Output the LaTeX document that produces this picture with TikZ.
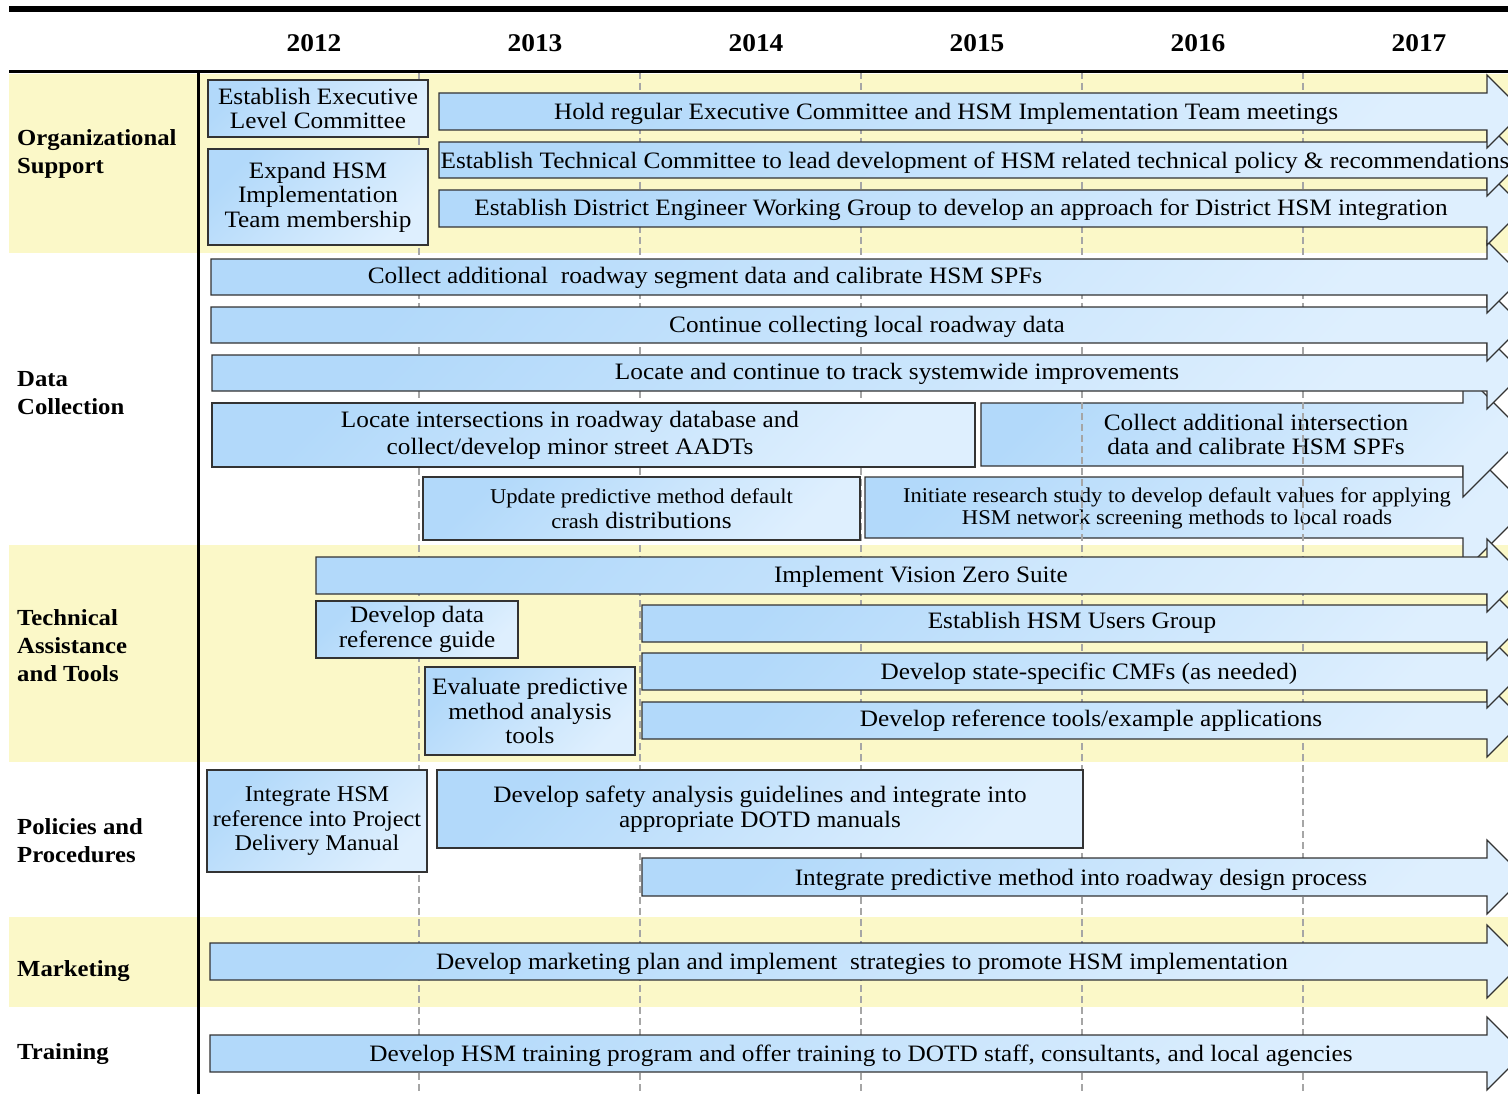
\documentclass[tikz,border=0pt]{standalone}
\usepackage{fontspec}
\setmainfont{Liberation Serif}[FakeStretch=1.075]
\definecolor{bandyellow}{RGB}{251,248,200}
\definecolor{taskdark}{RGB}{178,217,250}
\definecolor{tasklight}{RGB}{222,239,254}
\tikzset{
  band/.style={fill=bandyellow}, % yellow background of a row
  task/.style={ % blue boxes and arrows
    draw=black!80,line width=1.2pt,
    top color=taskdark,bottom color=tasklight,
    shading angle=45,
  },
  tasktext/.style={inner sep=0pt,align=center,yshift=-1.5pt,font=\fontsize{23.5}{24.5}\selectfont},
  smalltext/.style={tasktext,font=\fontsize{21}{22}\selectfont},
  taskbox/.style={task,tasktext,yshift=1.5pt},
  yearline/.style={draw=black!35,line width=1.2pt,dash pattern=on 7pt off 4pt},
  year/.style={font=\bfseries\fontsize{25.5}{30}\selectfont},
  rowlabel/.style={anchor=west,inner sep=0pt,align=left,yshift=-1.5pt,font=\bfseries\fontsize{23}{28}\selectfont},
}
% [head extend]{left x}{top y}{bottom y}{x of the head}
\newcommand{\tlarrow}[5][18]{%
  \pgfmathsetmacro{\tlup}{#3-#1}%
  \pgfmathsetmacro{\tllow}{#4+#1}%
  \pgfmathsetmacro{\tlmid}{(#3+#4)/2}%
  \pgfmathsetmacro{\tltip}{#5+(#4-#3)/2+#1}%
  \draw[task] (#2,#3) -- (#5,#3) -- (#5,\tlup) -- (\tltip,\tlmid)
    -- (#5,\tllow) -- (#5,#4) -- (#2,#4) -- cycle;
}
\begin{document}
\begin{tikzpicture}[x=1pt,y=-1pt]
\useasboundingbox (0,0) rectangle (1508,1094);
\clip (0,0) rectangle (1508,1094);

% row bands
\fill[band] (9,74) rectangle (1508,253);
\fill[band] (9,545) rectangle (1508,762);
\fill[band] (9,917) rectangle (1508,1007);

% under the year lines
\tlarrow[34]{865}{477}{538}{1463}
\node[smalltext] (initiate) at (1177,507) {Initiate research study to develop default values for applying\\HSM network screening methods to local roads};
\tlarrow[31]{981}{403}{466}{1463}
\node[tasktext] (collectint) at (1256,433) {Collect additional intersection\\data and calibrate HSM SPFs};

% year lines
\foreach \i in {1,...,5}
  \draw[yearline] (198+221*\i,72) -- (198+221*\i,1094);

% data collection
\tlarrow{212}{355}{391}{1487}
\node[tasktext] (track) at (897,372) {Locate and continue to track systemwide improvements};
\tlarrow{211}{307}{343}{1487}
\node[tasktext] (localdata) at (867,325) {Continue collecting local roadway data};
\tlarrow{211}{259}{295}{1487}
\node[tasktext] (segment) at (705,276) {Collect additional~ roadway segment data and calibrate HSM SPFs};
\node[task,minimum width=763pt,minimum height=64pt] (locatebox) at (593.5,435) {};
\node[tasktext,font=\fontsize{23.5}{27}\selectfont] (locate) at (570,433.5) {Locate intersections in roadway database and\\collect/develop minor street AADTs};
\node[taskbox,minimum width=437pt,minimum height=63pt] (update) at (641.5,508.5)
  {{\fontsize{21}{26}\selectfont Update predictive method default}\\{\fontsize{21}{26}\selectfont crash} distributions};

% organizational support
\tlarrow{439}{190}{227}{1487}
\node[tasktext] (district) at (961,208) {Establish District Engineer Working Group to develop an approach for District HSM integration};
\tlarrow{439}{142}{178}{1487}
\node[tasktext] (techcom) at (975,161) {Establish Technical Committee to lead development of HSM related technical policy \& recommendations};
\tlarrow{439}{93}{130}{1487}
\node[tasktext] (hold) at (946,112) {Hold regular Executive Committee and HSM Implementation Team meetings};
\node[taskbox,minimum width=220pt,minimum height=57pt] (execcom) at (318,108.5) {Establish Executive\\Level Committee};
\node[taskbox,minimum width=220pt,minimum height=96pt] (expand) at (318,197) {Expand HSM\\Implementation\\Team membership};

% training, marketing, policies
\tlarrow{210}{1035}{1072}{1487}
\node[tasktext] (training) at (861,1054) {Develop HSM training program and offer training to DOTD staff, consultants, and local agencies};
\tlarrow{210}{943}{980}{1487}
\node[tasktext] (marketing) at (862,962) {Develop marketing plan and implement~ strategies to promote HSM implementation};
\tlarrow{642}{858}{896}{1487}
\node[tasktext] (designproc) at (1081,878) {Integrate predictive method into roadway design process};
\node[taskbox,minimum width=220pt,minimum height=102pt,font=\fontsize{22.5}{24.5}\selectfont] (pdm) at (317,821)
  {Integrate HSM\\reference into Project\\Delivery Manual};
\node[taskbox,minimum width=646pt,minimum height=78pt] (safety) at (760,809) {Develop safety analysis guidelines and integrate into\\appropriate DOTD manuals};

% technical assistance and tools
\tlarrow{642}{702}{739}{1487}
\node[tasktext] (reftools) at (1091,719) {Develop reference tools/example applications};
\tlarrow{642}{653}{690}{1487}
\node[tasktext] (cmfs) at (1089,672) {Develop state-specific CMFs (as needed)};
\tlarrow{642}{605}{642}{1487}
\node[tasktext] (usersgroup) at (1072,621) {Establish HSM Users Group};
\tlarrow{316}{557}{594}{1487}
\node[tasktext] (visionzero) at (921,575) {Implement Vision Zero Suite};
\node[taskbox,minimum width=202pt,minimum height=57pt] (dataref) at (417,629.5) {Develop data\\reference guide};
\node[taskbox,minimum width=210pt,minimum height=88pt] (evaluate) at (530,711) {Evaluate predictive\\method analysis\\tools};

% header and frame
\draw[line width=5.5pt] (9,9) -- (1508,9);
\draw[line width=3pt] (9,72) -- (1508,72);
\draw[line width=3pt] (198.5,72) -- (198.5,1094);
\foreach \yr [count=\i from 0] in {2012,...,2017}
  \node[year] (yr\yr) at (314+221*\i,43) {\yr};

% row labels
\node[rowlabel] (orgsupport) at (17,152) {Organizational\\Support};
\node[rowlabel] (datacoll) at (17,392) {Data\\Collection};
\node[rowlabel] (techtools) at (17,644) {Technical\\Assistance\\and Tools};
\node[rowlabel] (policies) at (17,839.5) {Policies and\\Procedures};
\node[rowlabel] (marketlabel) at (17,970) {Marketing};
\node[rowlabel] (trainlabel) at (17,1053) {Training};

\end{tikzpicture}
\end{document}
